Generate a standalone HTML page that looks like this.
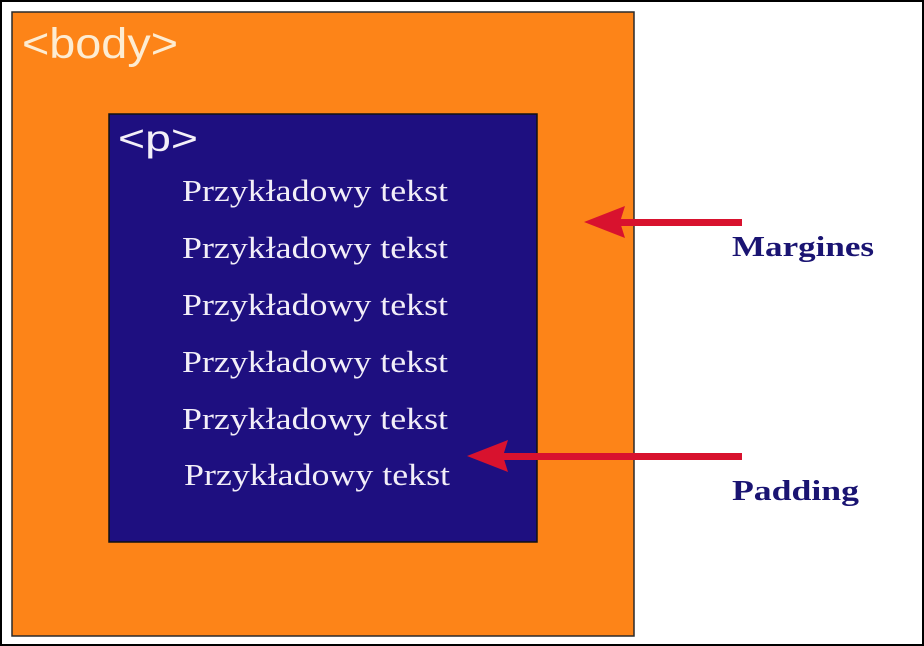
<!DOCTYPE html>
<html><head><meta charset="utf-8"><style>
html,body{margin:0;padding:0;background:#fff;}
svg{display:block;}
</style></head><body>
<svg width="924" height="646" xmlns="http://www.w3.org/2000/svg">
<rect x="1" y="1" width="922" height="644" fill="#fff" stroke="#000" stroke-width="2"/>
<rect x="12" y="12" width="622" height="624" fill="#fd8418" stroke="#2a2a2a" stroke-width="1.5"/>
<text x="22" y="58" font-family="Liberation Sans, sans-serif" font-size="43" fill="#fdecd2" textLength="156" lengthAdjust="spacingAndGlyphs">&lt;body&gt;</text>
<rect x="109" y="114" width="428" height="428" fill="#1e0f80" stroke="#111" stroke-width="1.5"/>
<text x="118" y="151" font-family="Liberation Sans, sans-serif" font-size="37" fill="#f4f0f8" textLength="80" lengthAdjust="spacingAndGlyphs">&lt;p&gt;</text>
<g font-family="Liberation Serif, serif" font-size="31" fill="#f2eef8">
<text x="182" y="201" textLength="266" lengthAdjust="spacingAndGlyphs">Przykładowy tekst</text>
<text x="182" y="258" textLength="266" lengthAdjust="spacingAndGlyphs">Przykładowy tekst</text>
<text x="182" y="315" textLength="266" lengthAdjust="spacingAndGlyphs">Przykładowy tekst</text>
<text x="182" y="372" textLength="266" lengthAdjust="spacingAndGlyphs">Przykładowy tekst</text>
<text x="182" y="429" textLength="266" lengthAdjust="spacingAndGlyphs">Przykładowy tekst</text>
<text x="184" y="485" textLength="266" lengthAdjust="spacingAndGlyphs">Przykładowy tekst</text>
</g>
<g fill="#d8122e">
<rect x="618" y="219" width="124" height="7"/>
<polygon points="584,222 625,206 620,222 625,238"/>
<rect x="500" y="453" width="242" height="7"/>
<polygon points="467,456 508,440 503,456 508,472"/>
</g>
<g font-family="Liberation Serif, serif" font-size="28" font-weight="bold" fill="#1a1472">
<text x="732" y="256" textLength="142" lengthAdjust="spacingAndGlyphs">Margines</text>
<text x="732" y="500" textLength="127" lengthAdjust="spacingAndGlyphs">Padding</text>
</g>
</svg>
</body></html>
